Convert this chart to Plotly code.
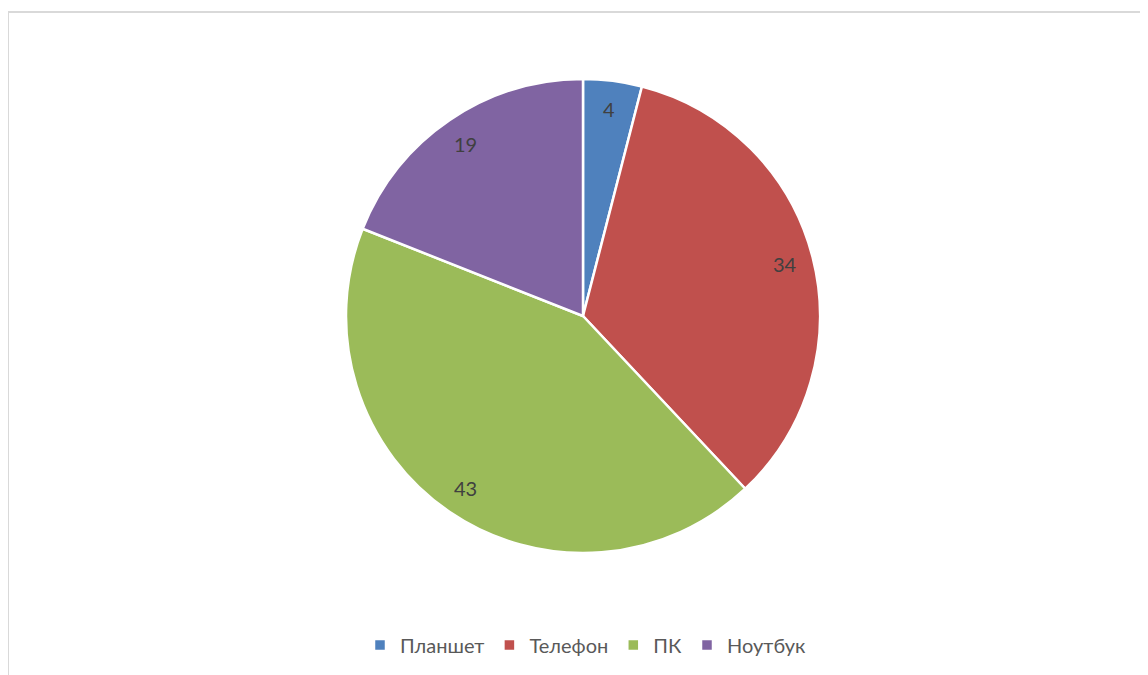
import math
import plotly.graph_objects as go

categories = ['Планшет', 'Телефон', 'ПК', 'Ноутбук']
values = [4, 34, 43, 19]
colors = ['#4F81BD', '#C0504D', '#9BBB59', '#8064A2']

W, H = 1148, 675
FONT = 'Lato'

# pie geometry in figure pixels
cx, cy, r = 575, 308, 237

fig = go.Figure()

fig.add_trace(go.Pie(
    labels=categories,
    values=values,
    sort=False,
    direction='clockwise',
    rotation=0,
    marker=dict(colors=colors, line=dict(color='white', width=2.5)),
    textinfo='none',
    hoverinfo='label+value',
    domain=dict(x=[(cx - r) / W, (cx + r) / W], y=[(H - cy - r) / H, (H - cy + r) / H]),
))

# data labels near the outer edge, like Excel's best fit
total = sum(values)
cum = 0
for v in values:
    mid = (cum + v / 2) / total * 2 * math.pi
    cum += v
    d = 0.88 * r
    px = cx + d * math.sin(mid)
    py = cy - d * math.cos(mid)
    fig.add_annotation(x=px / W, y=1 - py / H, xref='paper', yref='paper',
                       xanchor='center', yanchor='middle',
                       text=str(v), showarrow=False,
                       font=dict(family=FONT, size=20, color='#404040'))

# chart area frame (light gray, running off the right and bottom edges)
fig.add_shape(type='rect', xref='paper', yref='paper',
              x0=0, x1=1.05, y0=-0.05, y1=(H - 4) / H,
              line=dict(color='#D9D9D9', width=2))

fig.update_layout(
    width=W, height=H,
    margin=dict(l=0, r=0, t=0, b=0),
    paper_bgcolor='white',
    plot_bgcolor='white',
    font=dict(family=FONT, color='#595959', size=20),
    showlegend=True,
    legend=dict(orientation='h', x=578 / W, xanchor='center', y=(H - 637) / H, yanchor='middle',
                font=dict(family=FONT, size=20, color='#595959'), itemwidth=30, traceorder='normal'),
)

fig.write_html("out.html")
